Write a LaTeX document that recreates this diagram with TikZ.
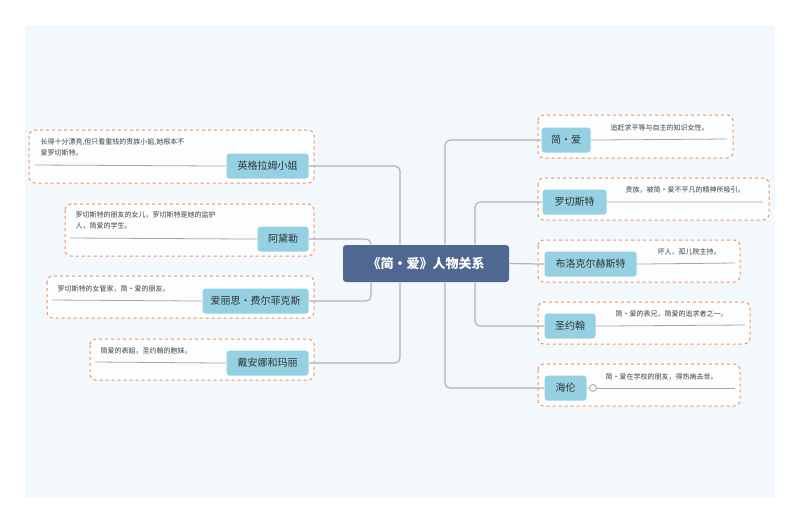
\documentclass[tikz,border=0pt]{standalone}
\usepackage{fontspec}
\setmainfont{Noto Sans CJK SC}
\begin{document}
\begin{tikzpicture}[x=1pt,y=-1pt,
  line width=1.1pt,
  conn/.style={draw=gray!60, line width=1.2pt},
  pnode/.style={fill=nodeblue, rounded corners=3pt, anchor=north west, inner sep=0pt, font=\fontsize{10}{12}\selectfont, text=black!80},
  desc/.style={anchor=north west, inner sep=0pt, font=\fontsize{7}{11}\selectfont, text=black!75, align=left},
  dbox/.style={draw=dashorange, dashed, rounded corners=6pt, line width=1pt, fill=white!70!panel},
  uline/.style={draw=gray!70, line width=0.8pt}]
\definecolor{nodeblue}{HTML}{95D1E3}
\definecolor{dashorange}{HTML}{F0955A}
\definecolor{centre}{HTML}{4F6891}
\definecolor{panel}{HTML}{F3F8FC}
\useasboundingbox (0,0) rectangle (800,523);
\fill[white] (0,0) rectangle (800,523);
\fill[panel] (25,25) rectangle (775,498);
% dashed boxes
\draw[dbox] (538,115) rectangle (733,158);
\draw[dbox] (538,178) rectangle (769,220);
\draw[dbox] (538,240) rectangle (740,282);
\draw[dbox] (538,302) rectangle (750,344);
\draw[dbox] (538,364) rectangle (740,406);
\draw[dbox] (29,130) rectangle (314,183);
\draw[dbox] (65,204) rectangle (314,256);
\draw[dbox] (47,276) rectangle (314,318);
\draw[dbox] (90,339) rectangle (314,380);
% centre
\node[fill=centre, rounded corners=3pt, minimum width=166pt, minimum height=37pt, text=white, font=\fontsize{13}{15}\selectfont\bfseries] (c) at (426,263.5) {《简•爱》人物关系};
% right nodes
\node[pnode, minimum width=49pt, minimum height=25pt] (r1) at (541,127) {简•爱};
\node[pnode, minimum width=64pt, minimum height=25pt] (r2) at (542,189) {罗切斯特};
\node[pnode, minimum width=92pt, minimum height=25pt] (r3) at (544,251) {布洛克尔赫斯特};
\node[pnode, minimum width=51pt, minimum height=25pt] (r4) at (544,313) {圣约翰};
\node[pnode, minimum width=42pt, minimum height=25pt] (r5) at (544,375) {海伦};
% left nodes
\node[pnode, minimum width=82pt, minimum height=25pt] (l1) at (226,153) {英格拉姆小姐};
\node[pnode, minimum width=51pt, minimum height=25pt] (l2) at (257,226) {阿黛勒};
\node[pnode, minimum width=106pt, minimum height=25pt] (l3) at (202,288) {爱丽思•费尔菲克斯};
\node[pnode, minimum width=82pt, minimum height=25pt] (l4) at (226,350) {戴安娜和玛丽};
% end coordinates for underlines
\coordinate (e1) at (727,139); \coordinate (e2) at (763,202); \coordinate (e3) at (735,263);
\coordinate (e4) at (745,325); \coordinate (e5) at (735,388);
\coordinate (f1) at (35,165); \coordinate (f2) at (70,238); \coordinate (f3) at (52,300); \coordinate (f4) at (95,362);
\draw[uline] (r1.east) -- (e1);
\draw[uline] (r2.east) -- (e2);
\draw[uline] (r3.east) -- (e3);
\draw[uline] (r4.east) -- (e4);
\node[circle, draw=gray!70, line width=0.8pt, fill=white, minimum size=7pt, inner sep=0pt] (hc) at (593,388) {};
\draw[uline] (r5.east) -- (hc.west);
\draw[uline] (hc.east) -- (e5);
\draw[uline] (l1.west) -- (f1);
\draw[uline] (l2.west) -- (f2);
\draw[uline] (l3.west) -- (f3);
\draw[uline] (l4.west) -- (f4);
% descriptions
\node[desc] (d1) at (610,124) {追赶求平等与自主的知识女性。};
\node[desc] (d2) at (625,186) {贵族，被简•爱不平凡的精神所吸引。};
\node[desc] (d3) at (657,248) {坏人，孤儿院主持。};
\node[desc] (d4) at (615,310) {简•爱的表兄，简爱的追求者之一。};
\node[desc] (d5) at (605,373) {简•爱在学校的朋友，得热病去世。};
\node[desc] (g1) at (40,138) {长得十分漂亮,但只看重钱的贵族小姐,她根本不\\爱罗切斯特。};
\node[desc] (g2) at (75,211) {罗切斯特的朋友的女儿，罗切斯特是她的监护\\人，简爱的学生。};
\node[desc] (g3) at (57,285) {罗切斯特的女管家，简•爱的朋友。};
\node[desc] (g4) at (100,347) {简爱的表姐，圣约翰的胞妹。};
% connectors
\draw[conn] (c.east) -- (r3.west);
\draw[conn, rounded corners=5pt] (c.north -| 445,0) |- (r1.west);
\draw[conn, rounded corners=5pt] (c.south -| 445,0) |- (r5.west);
\draw[conn, rounded corners=5pt] (c.north -| 475,0) |- (r2.west);
\draw[conn, rounded corners=5pt] (c.south -| 475,0) |- (r4.west);
\draw[conn, rounded corners=5pt] (c.north -| 400,0) |- (l1.east);
\draw[conn, rounded corners=5pt] (c.south -| 400,0) |- (l4.east);
\draw[conn, rounded corners=5pt] (c.north -| 371,0) |- (l2.east);
\draw[conn, rounded corners=5pt] (c.south -| 371,0) |- (l3.east);
\end{tikzpicture}
\end{document}
